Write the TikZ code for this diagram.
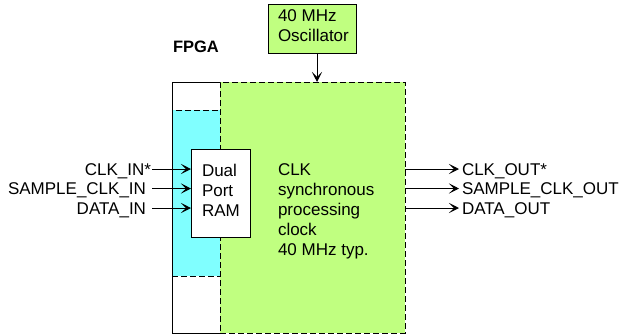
\documentclass[tikz,border=0pt]{standalone}
\usepackage{fontspec}
\setmainfont{Liberation Sans}
\usetikzlibrary{arrows.meta}
\definecolor{fgreen}{RGB}{192,255,128}
\definecolor{fcyan}{RGB}{128,255,255}
\begin{document}
\begin{tikzpicture}[x=1pt,y=-1pt,
  txt/.style={font=\fontsize{17}{20}\selectfont, inner sep=0pt, outer sep=0pt},
  boxs/.style={draw=black, line width=1pt, inner sep=0pt, outer sep=0pt, anchor=north west},
  dsh/.style={boxs, dash pattern=on 6pt off 3pt},
  arr/.style={line width=1pt, -{Stealth[length=10pt,width=10pt,inset=5pt]}},
  ]
\useasboundingbox (0,0) rectangle (621,335);
% FPGA blocks
\node[boxs, fill=white, minimum width=48pt, minimum height=251pt] (leftcol) at (172,82) {};
\node[dsh, fill=fcyan, minimum width=48pt, minimum height=166pt] (cyan) at (172,110) {};
\node[dsh, fill=fgreen, minimum width=185pt, minimum height=251pt] (green) at (220,82) {};
\draw[line width=1pt] (leftcol.north west) -- (leftcol.south west);
\node[boxs, fill=white, minimum width=59pt, minimum height=88pt] (ram) at (191,149) {};
\node[txt, anchor=north west, align=left] (ramtxt) at (202,164) {Dual\\Port\\RAM};
\node[txt, anchor=north west, align=left] (clktxt) at (278,164) {CLK\\synchronous\\processing\\clock\\40 MHz typ.};
\node[txt, anchor=base west, font=\fontsize{16.5}{20}\selectfont\bfseries] (fpga) at (173,52) {FPGA};
% oscillator
\node[boxs, fill=fgreen, minimum width=88pt, minimum height=49pt] (osc) at (268,4) {};
\node[txt, anchor=north west, align=left] (osctxt) at (278,10) {40 MHz\\Oscillator};
\draw[arr] ([xshift=5pt]osc.south) -- ([xshift=5pt]osc.south |- green.north);
% inputs
\coordinate (i1) at (152,169);
\coordinate (i2) at (152,188.5);
\coordinate (i3) at (152,208);
\node[txt, anchor=base east] (lin1) at (151,175) {CLK\_IN*};
\node[txt, anchor=base east] (lin2) at (146,194.5) {SAMPLE\_CLK\_IN};
\node[txt, anchor=base east] (lin3) at (146,214) {DATA\_IN};
\draw[arr] (i1) -- (i1 -| ram.west);
\draw[arr] (i2) -- (i2 -| ram.west);
\draw[arr] (i3) -- (i3 -| ram.west);
% outputs
\coordinate (o1) at (459,169);
\coordinate (o2) at (459,188.5);
\coordinate (o3) at (459,208);
\node[txt, anchor=base west] (lout1) at (462,175) {CLK\_OUT*};
\node[txt, anchor=base west] (lout2) at (462,194.5) {SAMPLE\_CLK\_OUT};
\node[txt, anchor=base west] (lout3) at (462,214) {DATA\_OUT};
\draw[arr] (o1 -| green.east) -- (o1);
\draw[arr] (o2 -| green.east) -- (o2);
\draw[arr] (o3 -| green.east) -- (o3);
\end{tikzpicture}
\end{document}
